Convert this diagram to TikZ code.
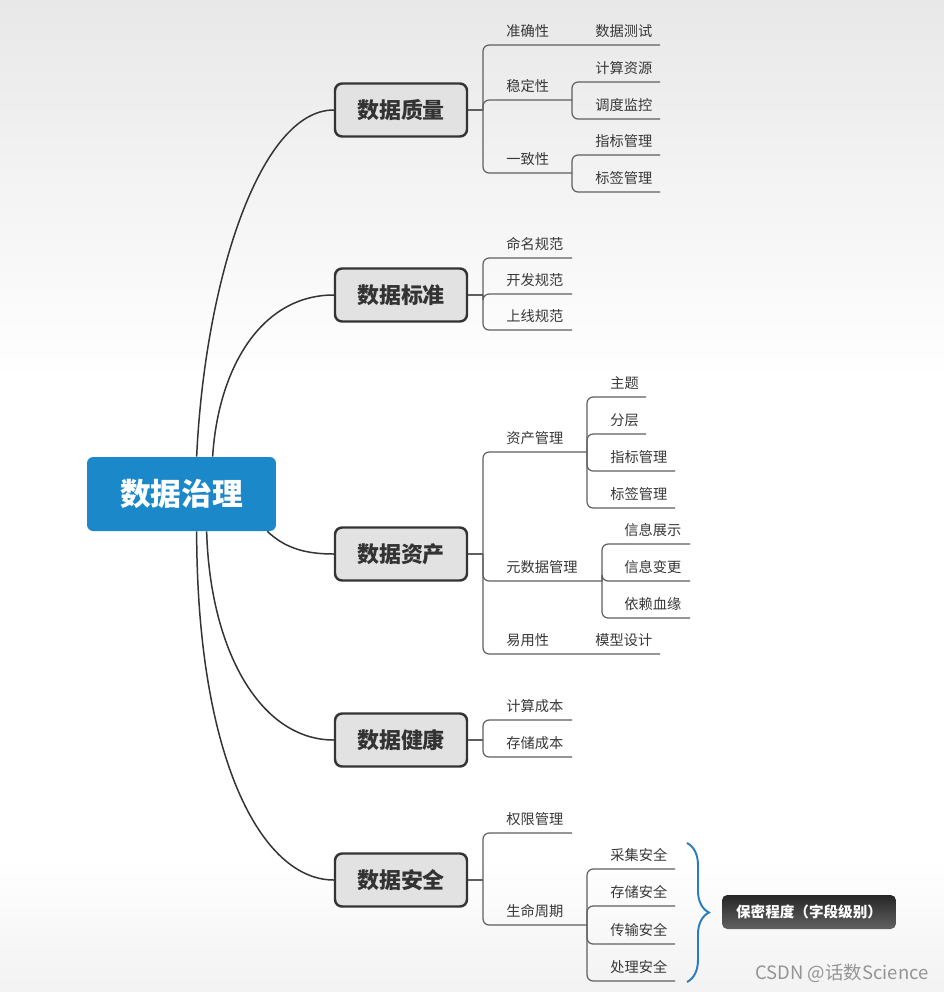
\documentclass[tikz,border=0pt]{standalone}
\usepackage{fontspec}
\setmainfont{Noto Sans CJK SC}
\usetikzlibrary{decorations.pathreplacing}
\definecolor{RootBlue}{RGB}{27,136,202}
\definecolor{BoxGrey}{RGB}{226,226,226}
\definecolor{EdgeDark}{RGB}{52,52,52}
\definecolor{LineGrey}{RGB}{95,95,95}
\definecolor{BraceBlue}{RGB}{42,124,190}

\begin{document}
\begin{tikzpicture}[x=0.02cm, y=-0.02cm, font=\fontsize{8.1}{10}\selectfont]
\tikzset{
  root/.style={fill=RootBlue, rounded corners=3.5pt, minimum width=3.78cm, minimum height=1.48cm,
    text=white, font=\bfseries\fontsize{17.5}{20}\selectfont},
  topic/.style={draw=EdgeDark, line width=1.4pt, fill=BoxGrey, rounded corners=4pt,
    minimum width=2.64cm, minimum height=1.06cm, text=black!80, font=\bfseries\fontsize{12.5}{15}\selectfont},
  leaf/.style={anchor=west, inner sep=0pt, text=black!78},
  curve/.style={EdgeDark, line width=0.85pt},
  link/.style={LineGrey, line width=0.7pt, rounded corners=3.5pt},
  tag/.style={top color=black!85, bottom color=black!62, rounded corners=3pt, minimum width=3.48cm,
    minimum height=0.68cm, text=white, font=\bfseries\fontsize{8.3}{10}\selectfont},
  watermark/.style={text=black!42, font=\fontsize{10.5}{12}\selectfont}
}
  \useasboundingbox (0,0) rectangle (944,992);
  \fill[white] (0,0) rectangle (944,992);
  \shade[top color=black!9, bottom color=white] (0,0) rectangle (944,380);
  \shade[top color=white, bottom color=black!5] (0,860) rectangle (944,992);

  % root and main topics
  \node[root] (r) at (181.5,494) {数据治理};
  \node[topic] (dq) at (401,110) {数据质量};
  \node[topic] (ds) at (401,295) {数据标准};
  \node[topic] (dz) at (401,554) {数据资产};
  \node[topic] (dj) at (401,740) {数据健康};
  \node[topic] (da) at (401,880) {数据安全};

  \draw[curve] ([xshift=2.2cm]r.north west) .. controls (205,280) and (260,110) .. (dq.west);
  \draw[curve] ([xshift=2.52cm]r.north west) .. controls (218,370) and (260,295) .. (ds.west);
  \draw[curve] ([xshift=-0.18cm]r.south east) .. controls (285,548) and (305,554) .. (dz.west);
  \draw[curve] ([xshift=2.4cm]r.south west) .. controls (210,650) and (260,740) .. (dj.west);
  \draw[curve] ([xshift=2.2cm]r.south west) .. controls (197,760) and (262,880) .. (da.west);

  % 数据质量
  \coordinate (dqs) at (483,110);
  \node[leaf] (q1) at (506,31) {准确性};
  \node[leaf] (q11) at (595,31) {数据测试};
  \node[leaf] (q2) at (506,86) {稳定性};
  \node[leaf] (q21) at (595,68) {计算资源};
  \node[leaf] (q22) at (595,105) {调度监控};
  \node[leaf] (q3) at (506,159) {一致性};
  \node[leaf] (q31) at (595,141) {指标管理};
  \node[leaf] (q32) at (595,178) {标签管理};
  \coordinate (q1e) at (572,45);
  \coordinate (q11e) at (660,45);
  \coordinate (q2e) at (572,100);
  \coordinate (q21e) at (660,82);
  \coordinate (q22e) at (660,119);
  \coordinate (q3e) at (572,173);
  \coordinate (q31e) at (660,155);
  \coordinate (q32e) at (660,192);
  \draw[link] (dq.east) -- (dqs);
  \draw[link] (dqs) |- (q1e) -- (q11e);
  \foreach \c in {q2e,q3e} \draw[link] (dqs) |- (\c);
  \foreach \c in {q21e,q22e} \draw[link] (q2e) |- (\c);
  \foreach \c in {q31e,q32e} \draw[link] (q3e) |- (\c);

  % 数据标准
  \coordinate (dss) at (483,295);
  \node[leaf] (s1) at (506,244) {命名规范};
  \node[leaf] (s2) at (506,280) {开发规范};
  \node[leaf] (s3) at (506,316) {上线规范};
  \coordinate (s1e) at (572,258);
  \coordinate (s2e) at (572,294);
  \coordinate (s3e) at (572,330);
  \draw[link] (ds.east) -- (dss);
  \foreach \c in {s1e,s2e,s3e} \draw[link] (dss) |- (\c);

  % 数据资产
  \coordinate (dzs) at (483,554);
  \node[leaf] (z1) at (506,438) {资产管理};
  \node[leaf] (z11) at (610,383) {主题};
  \node[leaf] (z12) at (610,420) {分层};
  \node[leaf] (z13) at (610,457) {指标管理};
  \node[leaf] (z14) at (610,494) {标签管理};
  \node[leaf] (z2) at (506,567) {元数据管理};
  \node[leaf] (z21) at (624,530) {信息展示};
  \node[leaf] (z22) at (624,567) {信息变更};
  \node[leaf] (z23) at (624,604) {依赖血缘};
  \node[leaf] (z3) at (506,640) {易用性};
  \node[leaf] (z31) at (595,640) {模型设计};
  \coordinate (z1e) at (587,452);
  \coordinate (z11e) at (646,397);
  \coordinate (z12e) at (646,434);
  \coordinate (z13e) at (675,471);
  \coordinate (z14e) at (675,508);
  \coordinate (z2e) at (602,581);
  \coordinate (z21e) at (690,544);
  \coordinate (z22e) at (690,581);
  \coordinate (z23e) at (690,618);
  \coordinate (z3e) at (572,654);
  \coordinate (z31e) at (660,654);
  \draw[link] (dz.east) -- (dzs);
  \foreach \c in {z1e,z2e} \draw[link] (dzs) |- (\c);
  \draw[link] (dzs) |- (z3e) -- (z31e);
  \foreach \c in {z11e,z12e,z13e,z14e} \draw[link] (z1e) |- (\c);
  \foreach \c in {z21e,z22e,z23e} \draw[link] (z2e) |- (\c);

  % 数据健康
  \coordinate (djs) at (483,740);
  \node[leaf] (j1) at (506,706) {计算成本};
  \node[leaf] (j2) at (506,743) {存储成本};
  \coordinate (j1e) at (572,720);
  \coordinate (j2e) at (572,757);
  \draw[link] (dj.east) -- (djs);
  \foreach \c in {j1e,j2e} \draw[link] (djs) |- (\c);

  % 数据安全
  \coordinate (das) at (483,880);
  \node[leaf] (a1) at (506,819) {权限管理};
  \node[leaf] (a2) at (506,911) {生命周期};
  \node[leaf] (a21) at (610,855) {采集安全};
  \node[leaf] (a22) at (610,892) {存储安全};
  \node[leaf] (a23) at (610,930) {传输安全};
  \node[leaf] (a24) at (610,967) {处理安全};
  \coordinate (a1e) at (572,833);
  \coordinate (a2e) at (587,925);
  \coordinate (a21e) at (675,869);
  \coordinate (a22e) at (675,906);
  \coordinate (a23e) at (675,944);
  \coordinate (a24e) at (675,981);
  \draw[link] (da.east) -- (das);
  \foreach \c in {a1e,a2e} \draw[link] (das) |- (\c);
  \foreach \c in {a21e,a22e,a23e,a24e} \draw[link] (a2e) |- (\c);

  % brace and secrecy tag
  \coordinate (bt) at (687,843);
  \coordinate (bb) at (687,982);
  \draw[BraceBlue, line width=1.1pt, decorate, decoration={brace, amplitude=12.5pt}] (bt) -- (bb);
  \node[tag] (pm) at (809,912) {保密程度（字段级别）};

  \node[watermark] (wm) at (842,973) {CSDN @话数Science};
\end{tikzpicture}
\end{document}
